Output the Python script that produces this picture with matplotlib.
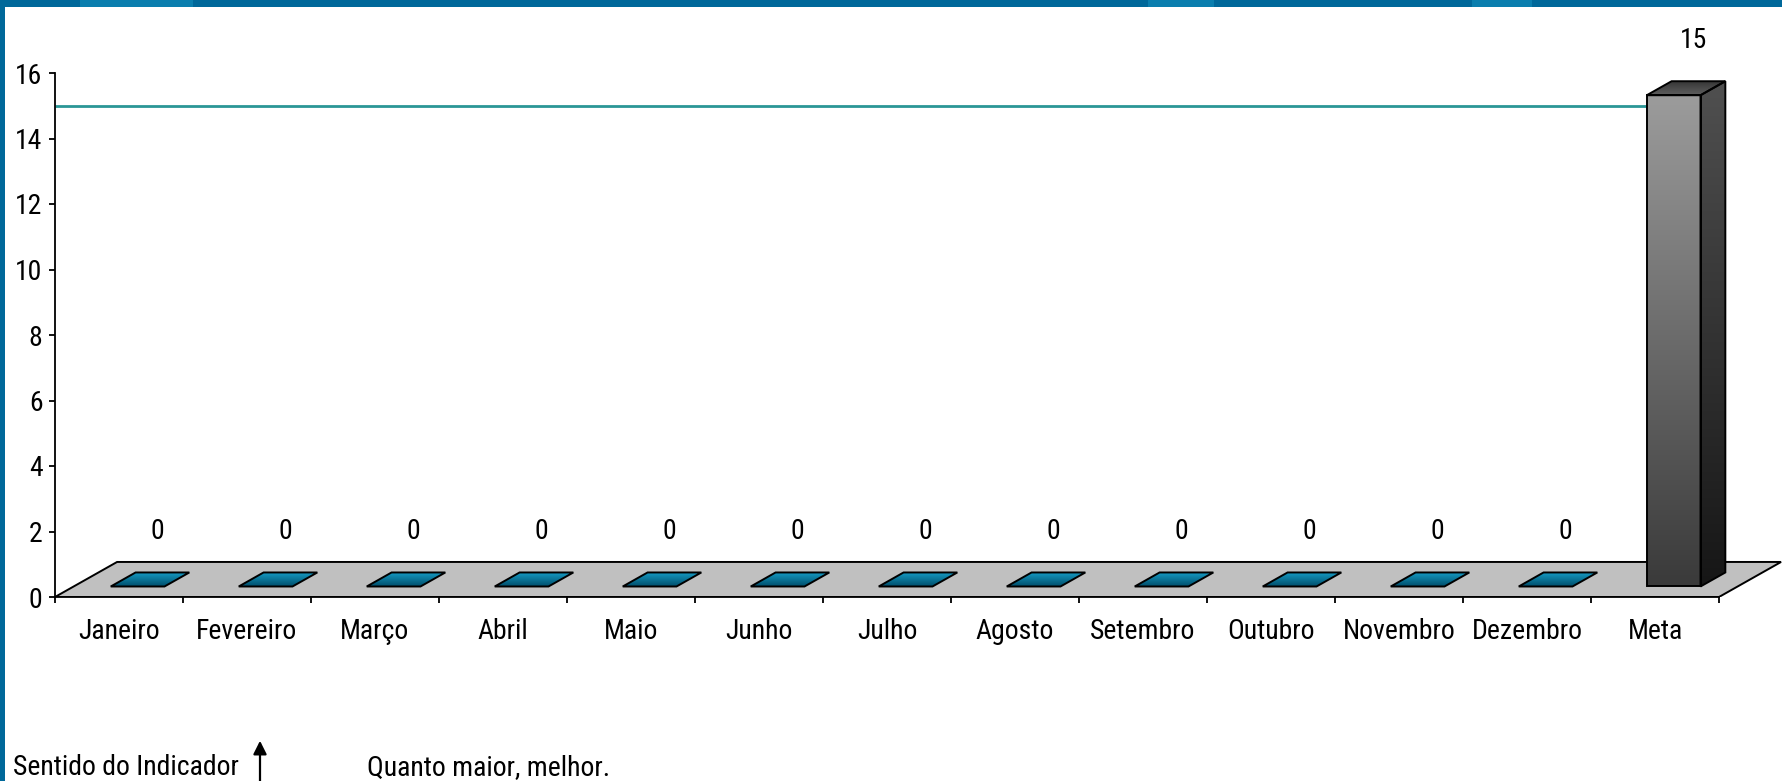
import numpy as np
import matplotlib
matplotlib.use("Agg")
import matplotlib.pyplot as plt
from matplotlib.patches import Polygon, Rectangle, FancyArrowPatch
from matplotlib.colors import LinearSegmentedColormap

months = ["Janeiro", "Fevereiro", "Março", "Abril", "Maio", "Junho", "Julho",
          "Agosto", "Setembro", "Outubro", "Novembro", "Dezembro", "Meta"]
values = [0, 0, 0, 0, 0, 0, 0, 0, 0, 0, 0, 0, 15]
meta = 15
yticks = [0, 2, 4, 6, 8, 10, 12, 14, 16]
direction_label = "Sentido do Indicador"
direction_text = "Quanto maior, melhor."

plt.rcParams["font.family"] = ["Roboto Condensed", "Archivo Narrow", "Liberation Sans", "DejaVu Sans"]
plt.rcParams["font.size"] = 20

# fake 3d: depth offset in data units
DX = 0.485
DY = 1.07
half_w = 0.21
z0, z1 = 0.30, 0.70

def proj(x, y, z):
    return (x + z * DX, y + z * DY)

def grad_poly(ax, verts, c_top, c_bot, zorder):
    poly = Polygon(verts, closed=True, facecolor="none", edgecolor="black",
                   lw=1.4, zorder=zorder + 0.1, joinstyle="miter")
    ax.add_patch(poly)
    xs = [v[0] for v in verts]
    ys = [v[1] for v in verts]
    cmap = LinearSegmentedColormap.from_list("g", [c_bot, c_top])
    im = ax.imshow(np.linspace(0, 1, 256).reshape(-1, 1), cmap=cmap,
                   extent=[min(xs), max(xs), min(ys), max(ys)], origin="lower",
                   aspect="auto", zorder=zorder, interpolation="bilinear")
    im.set_clip_path(poly)

fig = plt.figure(figsize=(17.82, 7.81), dpi=100)
fig.patch.set_facecolor("white")
ax = fig.add_axes([55 / 1782, 184 / 781, 1728 / 1782, 589.5 / 781])
ax.set_facecolor("none")

n = len(months)

# floor
floor = Polygon([proj(0, 0, 0), proj(n, 0, 0), proj(n, 0, 1), proj(0, 0, 1)],
                closed=True, facecolor="#c0c0c0", edgecolor="black", lw=1.4, zorder=1)
ax.add_patch(floor)

# goal line
ax.hlines(meta, 0, n, color="#2a9696", lw=2, zorder=2)

for i, v in enumerate(values):
    xa = i + 0.5 - half_w
    xb = i + 0.5 + half_w
    if v == 0:
        top = [proj(xa, 0, z0), proj(xb, 0, z0), proj(xb, 0, z1), proj(xa, 0, z1)]
        grad_poly(ax, top, "#18a2cb", "#00506e", 3)
    else:
        front = [proj(xa, 0, z0), proj(xb, 0, z0), proj(xb, v, z0), proj(xa, v, z0)]
        side = [proj(xb, 0, z0), proj(xb, 0, z1), proj(xb, v, z1), proj(xb, v, z0)]
        top = [proj(xa, v, z0), proj(xb, v, z0), proj(xb, v, z1), proj(xa, v, z1)]
        grad_poly(ax, front, "#9c9c9c", "#3a3a3a", 4)
        grad_poly(ax, side, "#505050", "#161616", 4)
        grad_poly(ax, top, "#333333", "#5e5e5e", 4)
    ax.text(i + 0.5 + 0.3, v + 2.0, str(v), ha="center", va="center", zorder=6)

ax.set_xlim(0, n + 0.5)
ax.set_ylim(0, 18)

for s in ["top", "right"]:
    ax.spines[s].set_visible(False)
ax.spines["left"].set_bounds(0, 16)
ax.spines["bottom"].set_bounds(0, n)
ax.spines["left"].set_linewidth(1.3)
ax.spines["bottom"].set_linewidth(1.3)
ax.spines["left"].set_zorder(7)
ax.spines["bottom"].set_zorder(7)

ax.set_yticks(yticks)
ax.tick_params(axis="y", length=4, width=1.3, pad=5, labelsize=20)
ax.set_xticks(np.arange(n + 1))
ax.set_xticklabels([])
ax.set_xticks(np.arange(n) + 0.5, minor=True)
ax.set_xticklabels(months, minor=True)
ax.tick_params(axis="x", which="major", length=4, width=1.3)
ax.tick_params(axis="x", which="minor", length=0, pad=15, labelsize=20)

# blue frame
fig.add_artist(Rectangle((0, 1 - 7 / 781), 1, 7 / 781, transform=fig.transFigure,
                         facecolor="#00689a", edgecolor="none", zorder=10))
for a, b in [(80, 193), (1148, 1214), (1472, 1532)]:
    fig.add_artist(Rectangle((a / 1782, 1 - 7 / 781), (b - a) / 1782, 7 / 781,
                             transform=fig.transFigure, facecolor="#0a7eae",
                             edgecolor="none", zorder=11))
fig.add_artist(Rectangle((0, 0), 5 / 1782, 1, transform=fig.transFigure,
                         facecolor="#00689a", edgecolor="none", zorder=10))

# indicator direction
fig.text(13 / 1782, 6 / 781, direction_label, ha="left", va="baseline", fontsize=20)
fig.text(367 / 1782, 6 / 781, direction_text, ha="left", va="baseline", fontsize=20)
fig.add_artist(FancyArrowPatch((260 / 1782, -0.01), (260 / 1782, 43 / 781),
                               transform=fig.transFigure, arrowstyle="-|>",
                               mutation_scale=20, color="black", lw=1.6))

fig.savefig("out.png", dpi=100)
